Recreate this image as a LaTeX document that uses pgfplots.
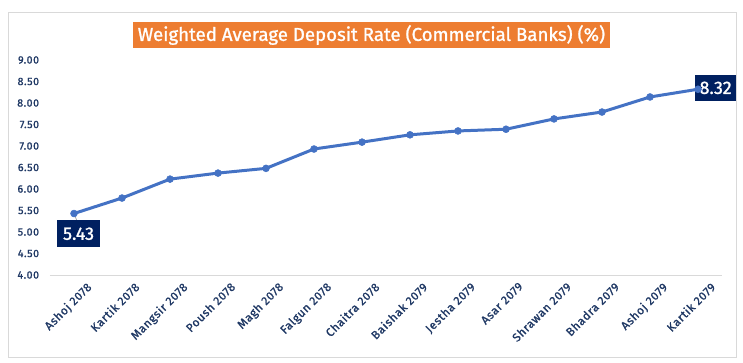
\documentclass[border=0pt]{standalone}
\usepackage{fontspec}
\setmainfont{Fira Sans}
\newfontfamily\medfont{Fira Sans}[FakeBold=1.2]
\newfontfamily\lblfont{Fira Sans}[FakeBold=1.2, LetterSpace=5]
\usepackage{pgfplots}
\pgfplotsset{compat=1.18}
\definecolor{navy}{HTML}{1F3864}
\definecolor{lblue}{HTML}{002060}
\definecolor{lineblue}{HTML}{4472C4}
\definecolor{orng}{HTML}{ED7D31}
\definecolor{gridgray}{HTML}{D9D9D9}
\begin{document}
\begin{tikzpicture}[x=1pt,y=1pt]
\useasboundingbox (0,0) rectangle (557.25,271.5);
\draw[gridgray, line width=0.75pt] (6,3.75) rectangle (552,262.5);
\node[fill=orng, text=white, minimum width=357.75pt, minimum height=19.5pt, inner sep=0pt, font=\medfont\fontsize{14}{16}\selectfont] at (278.6,245.25) {Weighted Average Deposit Rate (Commercial Banks) (\%)};
\begin{axis}[
  at={(37.5pt,65.25pt)}, anchor=south west,
  scale only axis, width=504pt, height=161.25pt,
  xmin=-0.5, xmax=13.5, ymin=4, ymax=9,
  axis x line*=bottom, axis y line*=left,
  y axis line style={draw=none},
  x axis line style={draw=gridgray, line width=0.75pt, -},
  major tick length=0pt,
  ytick={4,4.5,5,5.5,6,6.5,7,7.5,8,8.5,9},
  xtick={0,...,13},
  xticklabels={Ashoj 2078,Kartik 2078,Mangsir 2078,Poush 2078,Magh 2078,Falgun 2078,Chaitra 2078,Baishak 2079,Jestha 2079,Asar 2079,Shrawan 2079,Bhadra 2079,Ashoj 2079,Kartik 2079},
  /pgf/number format/assume math mode=true,
  yticklabel={\pgfmathprintnumber[fixed,fixed zerofill,precision=2]{\tick}},
  tick label style={text=navy},
  yticklabel style={font=\lblfont\fontsize{8}{9}\selectfont, inner sep=0pt, xshift=-8pt},
  xticklabel style={font=\lblfont\fontsize{8.8}{10}\selectfont, rotate=45, anchor=north east, inner sep=0pt, yshift=-9.5pt, xshift=3pt},
  clip=false,
]
\addplot[lineblue, line width=2.25pt, mark=*, mark size=2.6pt, mark options={solid, fill=lineblue, draw=lineblue, line width=0.4pt}] coordinates {
(0,5.43) (1,5.79) (2,6.23) (3,6.37) (4,6.48) (5,6.93) (6,7.09) (7,7.26) (8,7.35) (9,7.39) (10,7.63) (11,7.79) (12,8.14) (13,8.32)};
\draw[gray!70, line width=0.5pt] (axis cs:0,5.43) -- ++(2pt,-5pt);
\node[fill=lblue, text=white, font=\medfont\fontsize{13.5}{15}\selectfont, inner sep=0pt, minimum width=32pt, minimum height=20pt, anchor=north, xshift=3.4pt, yshift=-5pt] at (axis cs:0,5.43) {5.43};
\node[fill=lblue, text=white, font=\medfont\fontsize{13.5}{15}\selectfont, inner sep=0pt, minimum width=31pt, minimum height=20pt, anchor=west, xshift=-2.5pt, yshift=1pt] at (axis cs:13,8.32) {8.32};
\end{axis}
\end{tikzpicture}
\end{document}
